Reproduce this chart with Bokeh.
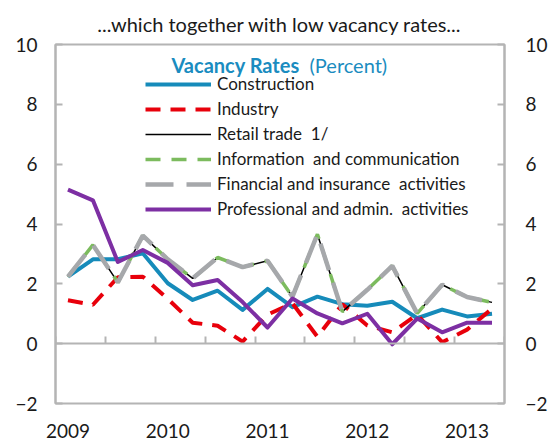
from bokeh.plotting import figure
from bokeh.models import (Range1d, LinearAxis, FixedTicker, Legend, LegendItem,
                          Label, ColumnDataSource)
from bokeh.embed import file_html
from bokeh.resources import INLINE

quarters = ["2009Q1", "2009Q2", "2009Q3", "2009Q4",
            "2010Q1", "2010Q2", "2010Q3", "2010Q4",
            "2011Q1", "2011Q2", "2011Q3", "2011Q4",
            "2012Q1", "2012Q2", "2012Q3", "2012Q4",
            "2013Q1", "2013Q2"]
construction = [2.24, 2.82, 2.82, 3.02, 2.02, 1.46, 1.77, 1.13, 1.83, 1.22,
                1.57, 1.32, 1.27, 1.40, 0.85, 1.14, 0.91, 1.00]
industry = [1.45, 1.30, 2.22, 2.24, 1.50, 0.70, 0.60, 0.07, 0.97, 1.35,
            0.23, 1.32, 0.61, 0.38, 0.97, 0.05, 0.47, 1.17]
retail = [2.24, 3.30, 2.05, 3.61, 2.82, 2.18, 2.88, 2.56, 2.77, 1.57,
          3.66, 1.07, 1.80, 2.60, 1.01, 1.97, 1.56, 1.38]
information = [2.24, 3.30, 2.05, 3.61, 2.82, 2.18, 2.88, 2.56, 2.77, 1.57,
               3.66, 1.07, 1.80, 2.60, 1.01, 1.97, 1.56, 1.38]
financial = [2.24, 3.30, 2.05, 3.61, 2.82, 2.18, 2.88, 2.56, 2.77, 1.57,
             3.66, 1.07, 1.80, 2.60, 1.01, 1.97, 1.56, 1.38]
professional = [5.15, 4.79, 2.73, 3.13, 2.70, 1.95, 2.13, 1.39, 0.54, 1.51,
                1.01, 0.68, 1.00, -0.02, 0.84, 0.38, 0.70, 0.70]
y_ticks = [-2, 0, 2, 4, 6, 8, 10]

FONT = "Lato"
GRAY = "#B4B4B4"
TXT = "#1a1a1a"

xs = list(range(len(quarters)))
year_ticks = [i for i, q in enumerate(quarters) if q.endswith("Q1")]
year_labels = {i: quarters[i][:4] for i in year_ticks}
boundary_ticks = [i - 0.5 for i in range(0, len(quarters) + 1, 2)]

src = ColumnDataSource(dict(x=xs, construction=construction, industry=industry,
                            retail=retail, information=information,
                            financial=financial, professional=professional))

p = figure(frame_width=449, frame_height=359,
           x_range=Range1d(-0.5, len(quarters) - 0.5), y_range=Range1d(-2, 10),
           output_backend="svg", toolbar_location=None,
           min_border_left=55, min_border_right=51,
           min_border_top=43, min_border_bottom=40)
p.grid.visible = False
p.outline_line_color = GRAY
p.outline_line_width = 2
p.background_fill_color = "white"
p.border_fill_color = "white"

p.title.text = "...which together with low vacancy rates..."
p.title.align = "center"
p.title.text_font = FONT
p.title.text_font_size = "20px"
p.title.text_font_style = "normal"
p.title.text_color = TXT
p.title.standoff = 18

# x axis with year labels
xa = p.xaxis[0]
xa.ticker = FixedTicker(ticks=year_ticks)
xa.major_label_overrides = year_labels
xa.axis_line_color = None
xa.major_tick_line_color = None
xa.minor_tick_line_color = None
xa.major_tick_out = 0
xa.major_tick_in = 0
xa.major_label_standoff = 20
xa.major_label_text_font = FONT
xa.major_label_text_font_size = "19px"
xa.major_label_text_color = TXT

# zero line axis with tick marks between half-years
za = LinearAxis(fixed_location=0, ticker=FixedTicker(ticks=boundary_ticks),
                major_label_overrides={t: "" for t in boundary_ticks},
                major_label_text_font_size="1px", major_label_standoff=0,
                major_tick_in=7, major_tick_out=0,
                axis_line_color=GRAY, axis_line_width=2,
                major_tick_line_color=GRAY, major_tick_line_width=2,
                minor_tick_line_color=None)
p.add_layout(za, "below")


def style_y(ax, standoff):
    ax.ticker = FixedTicker(ticks=y_ticks)
    ax.axis_line_color = GRAY
    ax.axis_line_width = 2
    ax.major_tick_line_color = GRAY
    ax.major_tick_line_width = 2
    ax.major_tick_in = 7
    ax.major_tick_out = 0
    ax.minor_tick_line_color = None
    ax.major_label_standoff = standoff
    ax.major_label_text_font = FONT
    ax.major_label_text_font_size = "19px"
    ax.major_label_text_color = TXT


style_y(p.yaxis[0], 18)
ra = LinearAxis()
style_y(ra, 21)
p.add_layout(ra, "right")

r_con = p.line("x", "construction", source=src, line_color="#168BBA",
               line_width=4, line_join="round")
r_ind = p.line("x", "industry", source=src, line_color="#E8000B",
               line_width=4, line_dash="15 10")
r_ret = p.line("x", "retail", source=src, line_color="black", line_width=1.5)
r_inf = p.line("x", "information", source=src, line_color="#7CBB5E",
               line_width=3.5, line_dash="15 11")
r_fin = p.line("x", "financial", source=src, line_color="#A6A8AB",
               line_width=4.5, line_dash="28 13")
r_pro = p.line("x", "professional", source=src, line_color="#7D2FA3",
               line_width=4, line_join="round")

legend = Legend(items=[
    LegendItem(label="Construction", renderers=[r_con]),
    LegendItem(label="Industry", renderers=[r_ind]),
    LegendItem(label="Retail trade  1/", renderers=[r_ret]),
    LegendItem(label="Information  and communication", renderers=[r_inf]),
    LegendItem(label="Financial and insurance  activities", renderers=[r_fin]),
    LegendItem(label="Professional and admin.  activities", renderers=[r_pro]),
], location=(90, 184), border_line_color=None, background_fill_alpha=0,
    padding=0, margin=0, spacing=4, label_height=20, glyph_height=20,
    glyph_width=66, label_standoff=6, label_text_font=FONT,
    label_text_font_size="17px", label_text_color=TXT)
p.add_layout(legend)

p.add_layout(Label(x=116, y=339, x_units="screen", y_units="screen",
                   text="Vacancy Rates", text_font=FONT, text_font_size="20px",
                   text_font_style="bold", text_color="#1A8CC0",
                   text_baseline="middle"))
p.add_layout(Label(x=254, y=339, x_units="screen", y_units="screen",
                   text="(Percent)", text_font=FONT, text_font_size="20px",
                   text_color="#1A8CC0", text_baseline="middle"))

open("out.html", "w").write(file_html(p, INLINE))
